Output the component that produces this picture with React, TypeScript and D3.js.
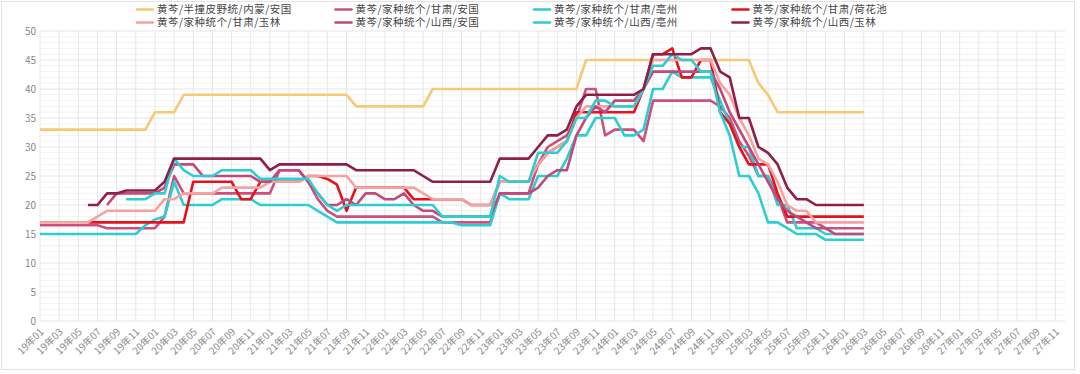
import React from "react";
import * as d3 from "d3";

const years = ["19", "20", "21", "22", "23", "24", "25", "26", "27"];
const months = ["01", "02", "03", "04", "05", "06", "07", "08", "09", "10", "11", "12"];
const categories = years.flatMap((yy) => months.map((m) => `${yy}年${m}`));

const yTicks = [0, 5, 10, 15, 20, 25, 30, 35, 40, 45, 50];

const names = [
  "黄芩/半撞皮野统/内蒙/安国",
  "黄芩/家种统个/甘肃/安国",
  "黄芩/家种统个/甘肃/亳州",
  "黄芩/家种统个/甘肃/荷花池",
  "黄芩/家种统个/甘肃/玉林",
  "黄芩/家种统个/山西/安国",
  "黄芩/家种统个/山西/亳州",
  "黄芩/家种统个/山西/玉林",
];
const colors = ["#f9c877", "#cd4f7e", "#2ccdd3", "#e8111b", "#f5a3a1", "#c4487a", "#2ccdd3", "#8d1f48"];

const N = null;
// one row per year, 19年01 .. 26年03
const neimengAnguo = [
  33, 33, 33, 33, 33, 33, 33, 33, 33, 33, 33, 33,
  36, 36, 36, 39, 39, 39, 39, 39, 39, 39, 39, 39,
  39, 39, 39, 39, 39, 39, 39, 39, 39, 37, 37, 37,
  37, 37, 37, 37, 37, 40, 40, 40, 40, 40, 40, 40,
  40, 40, 40, 40, 40, 40, 40, 40, 40, 45, 45, 45,
  45, 45, 45, 45, 45, 45, 45, 45, 45, 45, 45, 45,
  45, 45, 45, 41, 39, 36, 36, 36, 36, 36, 36, 36,
  36, 36, 36,
];
const gansuAnguo = [
  16.5, 16.5, 16.5, 16.5, 16.5, 16.5, 16.5, 16, 16, 16, 16, 16,
  16, 18, 25, 22, 22, 22, 22, 22, 22, 22, 22, 22,
  22, 26, 26, 26, 24, 21, 19, 18, 18, 18, 18, 18,
  18, 18, 18, 18, 18, 18, 17, 17, 17, 17, 17, 17,
  22, 22, 22, 22, 27, 30, 31, 32, 35, 40, 40, 32,
  33, 33, 33, 31, 38, 38, 38, 38, 38, 38, 38, 37,
  35, 31, 28.5, 25, 25, 21.5, 17, 17, 17, 17, 16, 16,
  16, 16, 16,
];
const gansuBozhou = [
  15, 15, 15, 15, 15, 15, 15, 15, 15, 15, 15, 16.5,
  17.5, 18, 24, 20, 20, 20, 20, 21, 21, 21, 21, 20,
  20, 20, 20, 20, 20, 19, 18, 17, 17, 17, 17, 17,
  17, 17, 17, 17, 17, 17, 17, 17, 16.5, 16.5, 16.5, 16.5,
  22, 21, 21, 21, 25, 25, 25, 28, 32, 32, 35, 35,
  35, 32, 32, 33, 40, 40, 43, 42, 42, 42, 42, 38,
  34, 30, 30, 25, 25, 20, 20, 16, 16, 16, 15, 15,
  15, 15, 15,
];
const gansuHehuachi = [
  N, N, N, N, N, 17, 17, 17, 17, 17, 17, 17,
  17, 17, 17, 17, 24, 24, 24, 24, 24, 21, 21, 24,
  24, 24, 24, 24, 25, 25, 24.5, 23.5, 19, 23, 23, 23,
  23, 23, 23, 21, 21, 21, 21, 21, 21, 20, 20, 20,
  24, 24, 24, 24, 27, 29, 30, 31, 36, 36, 36, 36,
  36, 36, 36, 40, 46, 46, 47, 42, 42, 45, 45, 36,
  34, 30, 27, 27, 27, 22, 18, 18, 18, 18, 18, 18,
  18, 18, 18,
];
const gansuYulin = [
  17, 17, 17, 17, 17, 17, 18, 19, 19, 19, 19, 19,
  19, 21, 21, 22, 22, 22, 22, 23, 23, 23, 23, 23,
  24, 24, 24, 24, 25, 25, 25, 25, 25, 23, 23, 23,
  23, 23, 23, 23, 22, 21, 21, 21, 21, 20, 20, 20,
  24, 24, 24, 24, 27, 29, 30, 31, 35, 37, 37, 37,
  37, 37, 37, 40, 45, 45, 45, 45, 45, 45, 45, 41,
  39, 35, 32, 28, 27, 24, 20, 19, 19, 17, 17, 17,
  17, 17, 17,
];
const shanxiAnguo = [
  N, N, N, N, N, N, N, 20, 22, 22, 22, 22,
  22, 23, 27, 27, 27, 25, 25, 25, 25, 25, 25, 24,
  24, 26, 26, 26, 24, 22, 20, 20, 21, 20, 22, 22,
  21, 21, 22, 20, 19, 19, 18, 18, 18, 18, 18, 18,
  22, 22, 22, 22, 23, 25, 26, 26, 32, 35, 37, 36,
  38, 38, 38, 40, 43, 43, 43, 43, 43, 43, 43, 40,
  36, 33, 30, 27, 24, 21, 19, 18, 17, 16, 16, 15,
  15, 15, 15,
];
const shanxiBozhou = [
  N, N, N, N, N, N, N, N, N, 21, 21, 21,
  22, 22, 28, 26, 25, 25, 25, 26, 26, 26, 26, 24.5,
  24.5, 24.5, 24.5, 24.5, 24.5, 22, 20, 19, 20, 20, 20, 20,
  20, 20, 20, 20, 20, 20, 18, 18, 18, 18, 18, 18,
  25, 24, 24, 24, 29, 29, 29, 31, 35, 35, 38, 38,
  37, 37, 37, 40, 44, 44, 46, 45, 45, 43, 43, 36,
  32, 25, 25, 22, 17, 17, 16, 15, 15, 15, 14, 14,
  14, 14, 14,
];
const shanxiYulin = [
  N, N, N, N, N, 20, 20, 22, 22, 22.5, 22.5, 22.5,
  22.5, 24, 28, 28, 28, 28, 28, 28, 28, 28, 28, 28,
  26, 27, 27, 27, 27, 27, 27, 27, 27, 26, 26, 26,
  26, 26, 26, 26, 25, 24, 24, 24, 24, 24, 24, 24,
  28, 28, 28, 28, 30, 32, 32, 33, 37, 39, 39, 39,
  39, 39, 39, 40, 46, 46, 46, 46, 46, 47, 47, 43,
  42, 35, 35, 30, 29, 27, 23, 21, 21, 20, 20, 20,
  20, 20, 20,
];

const seriesValues = [
  neimengAnguo, gansuAnguo, gansuBozhou, gansuHehuachi,
  gansuYulin, shanxiAnguo, shanxiBozhou, shanxiYulin,
];

const W = 1080;
const H = 374;
const FONT = "'Noto Sans CJK SC', 'Noto Sans', sans-serif";

export default function App() {
  const x = d3.scalePoint<string>().domain(categories).range([40, 1065]);
  const y = d3.scaleLinear().domain([0, 50]).range([321, 31]);

  const line = d3
    .line<number | null>()
    .defined((d) => d != null)
    .x((_, i) => x(categories[i]) as number)
    .y((d) => y(d as number));

  const minorY = d3.range(0, 50).filter((v) => v % 5 !== 0);
  const tickCats = categories.filter((_, i) => i % 2 === 0);

  return (
    <svg
      width={W}
      height={H}
      style={{ position: "absolute", left: 0, top: 0, background: "#fff" }}
      fontFamily={FONT}
    >
      <rect x={1.5} y={1.5} width={1073} height={368} fill="#fff" stroke="#e3e3e3" />

      {/* legend */}
      {names.map((n, i) => {
        const col = i % 4;
        const row = Math.floor(i / 4);
        const lx = 137 + col * 198.5;
        const ly = 9.5 + row * 13;
        return (
          <g key={n}>
            <line x1={lx} x2={lx + 16} y1={ly} y2={ly} stroke={colors[i]} strokeWidth={2.6} strokeLinecap="round" />
            <text x={lx + 20} y={ly} dy="0.36em" fontSize={10.5} letterSpacing={0.5} fill="#444">
              {n}
            </text>
          </g>
        );
      })}

      {/* grid */}
      {minorY.map((v) => (
        <line key={"m" + v} x1={40} x2={1065} y1={y(v)} y2={y(v)} stroke="#f3f3f3" />
      ))}
      {tickCats.map((c) => (
        <line key={"v" + c} x1={x(c)} x2={x(c)} y1={31} y2={321} stroke="#e6e6e6" />
      ))}
      {yTicks.map((v) => (
        <line key={"h" + v} x1={40} x2={1065} y1={y(v)} y2={y(v)} stroke="#e6e6e6" />
      ))}

      {/* y labels */}
      {yTicks.map((v) => (
        <text key={"yl" + v} x={36} y={y(v)} dy="0.35em" textAnchor="end" fontSize={10} fill="#888">
          {v}
        </text>
      ))}

      {/* x labels */}
      {tickCats.map((c) => (
        <text
          key={"xl" + c}
          transform={`translate(${(x(c) as number) + 2},${330}) rotate(-45)`}
          textAnchor="end"
          dy="0.35em"
          fontSize={10}
          fill="#888"
        >
          {c}
        </text>
      ))}

      {/* series */}
      {seriesValues.map((vals, i) => (
        <path
          key={"s" + i}
          d={line(vals) || ""}
          fill="none"
          stroke={colors[i]}
          strokeWidth={2.6}
          strokeLinejoin="round"
        />
      ))}
    </svg>
  );
}
